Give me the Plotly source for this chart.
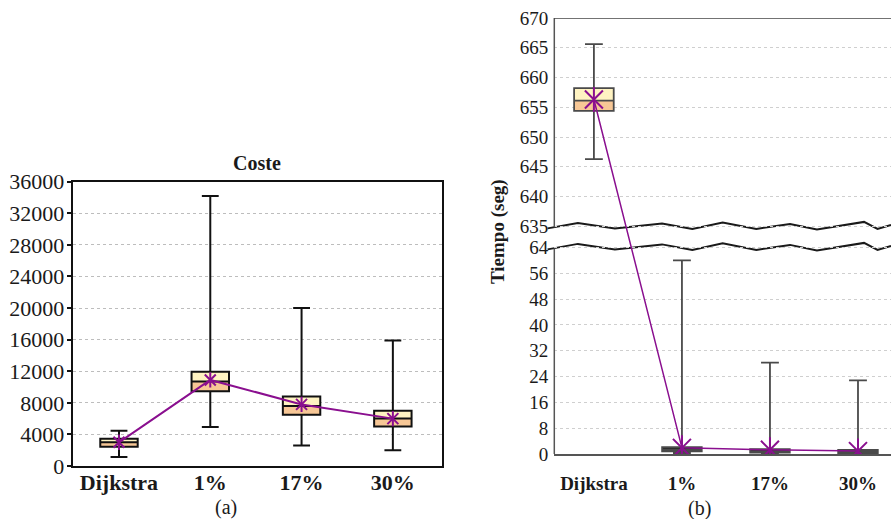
import plotly.graph_objects as go

# ---------------- data ----------------
categories = ["Dijkstra", "1%", "17%", "30%"]

# (a) Coste
cost_low = [1150, 4950, 2600, 2000]
cost_q1 = [2450, 9450, 6500, 5000]
cost_med = [3000, 10700, 7600, 6000]
cost_q3 = [3450, 11950, 8800, 7000]
cost_high = [4450, 34200, 20000, 15900]
cost_mean = [3000, 10900, 7800, 6000]
cost_ticks = [0, 4000, 8000, 12000, 16000, 20000, 24000, 28000, 32000, 36000]

# (b) Tiempo (seg)  (broken axis)
time_low = [646.3, 0.3, 0.1, 0.0]
time_q1 = [654.4, 0.8, 0.4, 0.2]
time_med = [656.1, 1.4, 0.9, 0.7]
time_q3 = [658.2, 2.1, 1.5, 1.3]
time_high = [665.6, 60.0, 28.3, 22.8]
time_mean = [656.3, 1.9, 1.3, 0.9]
time_ticks_low = [0, 8, 16, 24, 32, 40, 48, 56, 64]
time_ticks_high = [635, 640, 645, 650, 655, 660, 665, 670]

# ---------------- broken-axis mapping ----------------
LOW_MAX, LOW_SCALE, GAP, UP_MIN, UP_SCALE = 64, 3.23, 21.0, 635, 5.96


def brk(v):
    if v <= LOW_MAX:
        return v * LOW_SCALE
    return LOW_MAX * LOW_SCALE + GAP + (v - UP_MIN) * UP_SCALE


def brk_list(vals):
    return [brk(v) for v in vals]


W, H = 891, 519
SERIF = "Liberation Serif"
YEL = "#fff3c2"
ORA = "#f7c796"
PURPLE = "#8a0f8f"
TXT = "#1a1a1a"
DARK = "#111111"

fig = go.Figure()


def add_box_panel(xa, ya, low, q1, med, q3, high, mean, box_w, edge, ew, ms, lw,
                  lo_col, hi_col):
    fig.add_trace(go.Bar(x=categories, y=[m - a for m, a in zip(med, q1)], base=q1,
                         width=box_w, marker=dict(color=lo_col, line=dict(width=0)),
                         xaxis=xa, yaxis=ya, showlegend=False, hoverinfo="skip"))
    fig.add_trace(go.Bar(x=categories, y=[b - m for m, b in zip(med, q3)], base=med,
                         width=box_w, marker=dict(color=hi_col, line=dict(width=0)),
                         xaxis=xa, yaxis=ya, showlegend=False, hoverinfo="skip"))
    fig.add_trace(go.Box(x=categories, q1=q1, median=med, q3=q3, lowerfence=low,
                         upperfence=high, width=box_w, whiskerwidth=0.45,
                         fillcolor="rgba(0,0,0,0)", line=dict(color=edge, width=ew),
                         xaxis=xa, yaxis=ya, showlegend=False, boxpoints=False))
    fig.add_trace(go.Scatter(x=categories, y=mean, mode="lines+markers",
                             line=dict(color=PURPLE, width=lw),
                             marker=dict(symbol="x-thin-open", size=ms, color=PURPLE,
                                         line=dict(color=PURPLE, width=2)),
                             xaxis=xa, yaxis=ya, showlegend=False))
    fig.add_trace(go.Scatter(x=categories, y=mean, mode="markers",
                             marker=dict(symbol="line-ns-open", size=ms, color=PURPLE,
                                         line=dict(color=PURPLE, width=2)),
                             xaxis=xa, yaxis=ya, showlegend=False))


add_box_panel("x", "y", cost_low, cost_q1, cost_med, cost_q3, cost_high, cost_mean,
              0.41, DARK, 2, 11, 2, ORA, YEL)
add_box_panel("x2", "y2", brk_list(time_low), brk_list(time_q1), brk_list(time_med),
              brk_list(time_q3), brk_list(time_high), brk_list(time_mean),
              0.45, "#4a4a4a", 1.8, 18, 1.5,
              [ORA, DARK, DARK, DARK], [YEL, DARK, DARK, DARK])

# ---------------- axes ----------------
xa_dom = [72.7 / W, 441.7 / W]
ya_dom = [1 - 466 / H, 1 - 181.7 / H]
xb_dom = [554.3 / W, 1.0]
yb_dom = [1 - 454 / H, 1 - 17.9 / H]
yb_top = brk(670)

fig.update_layout(
    width=W, height=H, autosize=False,
    margin=dict(l=0, r=0, t=0, b=0, pad=0),
    paper_bgcolor="white", plot_bgcolor="white",
    barmode="overlay", boxmode="overlay",
    font=dict(family=SERIF, color=TXT),
    xaxis=dict(domain=xa_dom, range=[-0.507, 3.535], type="category", automargin=False,
               showline=True, mirror=True, linecolor="#111", linewidth=2,
               ticks="", showgrid=False,
               tickfont=dict(family=SERIF, size=22, weight="bold", color=TXT),
               ticklabelstandoff=-4),
    yaxis=dict(domain=ya_dom, range=[0, 36000], tickvals=cost_ticks, automargin=False,
               ticktext=[str(t) for t in cost_ticks],
               showline=True, mirror=True, linecolor="#111", linewidth=2,
               ticks="outside", ticklen=4, tickcolor="#111", tickwidth=1.5,
               showgrid=True, gridcolor="#bdbdbd", griddash="dot", gridwidth=1,
               zeroline=False, tickfont=dict(family=SERIF, size=22, color=TXT),
               ticklabelstandoff=-2),
    xaxis2=dict(domain=xb_dom, range=[-0.45, 3.375], type="category", anchor="y2",
                automargin=False,
                showline=True, linecolor="#555", linewidth=1.5, ticks="",
                showgrid=False,
                tickfont=dict(family=SERIF, size=19, weight="bold", color=TXT),
                ticklabelstandoff=11),
    yaxis2=dict(domain=yb_dom, range=[0, yb_top], anchor="x2", automargin=False,
                tickvals=brk_list(time_ticks_low + time_ticks_high),
                ticktext=[str(t) for t in time_ticks_low + time_ticks_high],
                showline=False, ticks="", showgrid=True, gridcolor="#cfcfcf",
                griddash="dot", gridwidth=1, zeroline=False,
                tickfont=dict(family=SERIF, size=19, color=TXT),
                ticklabelstandoff=5),
)

# ---------------- broken-axis decoration ----------------
wave_x = [-0.02, 0.07, 0.18, 0.32, 0.41, 0.50, 0.60, 0.70, 0.78, 0.92, 0.96, 1.0]
wave_off = [-2.0, 3.5, -2.0, 3.0, -2.5, 4.0, -2.5, 2.5, -3.0, 4.5, -2.5, 1.5]
y_up = brk(UP_MIN)
y_lo = brk(LOW_MAX)
up_pts = [(x, y_up + o) for x, o in zip(wave_x, wave_off)]
lo_pts = [(x, y_lo + o) for x, o in zip(wave_x, wave_off)]


def path_of(pts):
    return "M" + " L".join(f"{x:.4f},{y:.2f}" for x, y in pts)


for pts in (up_pts, lo_pts):
    fig.add_shape(type="path", path=path_of(pts), xref="x2 domain", yref="y2",
                  line=dict(color=TXT, width=2), layer="below")

# frame of panel (b): left axis broken, top border
fig.add_shape(type="line", xref="x2 domain", yref="y2", x0=0, x1=0, y0=0, y1=y_lo - 1,
              line=dict(color="#555", width=1.5))
fig.add_shape(type="line", xref="x2 domain", yref="y2", x0=0, x1=0, y0=y_up - 1, y1=yb_top,
              line=dict(color="#555", width=1.5))
fig.add_shape(type="line", xref="x2 domain", yref="y2", x0=0, x1=1, y0=yb_top, y1=yb_top,
              line=dict(color="#444", width=1.5))

# ---------------- text ----------------
fig.add_annotation(text="Coste", xref="paper", yref="paper", x=257 / W, y=1 - 163 / H,
                   yanchor="middle", xanchor="center", showarrow=False,
                   font=dict(family=SERIF, size=20, weight="bold", color=TXT))
fig.add_annotation(text="Tiempo (seg)", xref="paper", yref="paper", x=498 / W, y=1 - 232 / H,
                   yanchor="middle", xanchor="center", textangle=-90, showarrow=False,
                   font=dict(family=SERIF, size=19, weight="bold", color=TXT))
fig.add_annotation(text="(a)", xref="paper", yref="paper", x=226 / W, y=1 - 507 / H,
                   yanchor="middle", xanchor="center", showarrow=False,
                   font=dict(family=SERIF, size=20, color=TXT))
fig.add_annotation(text="(b)", xref="paper", yref="paper", x=699 / W, y=1 - 508 / H,
                   yanchor="middle", xanchor="center", showarrow=False,
                   font=dict(family=SERIF, size=20, color=TXT))

fig.write_html("out.html", config={"displayModeBar": False},
               post_script="document.body.style.margin='0';")
